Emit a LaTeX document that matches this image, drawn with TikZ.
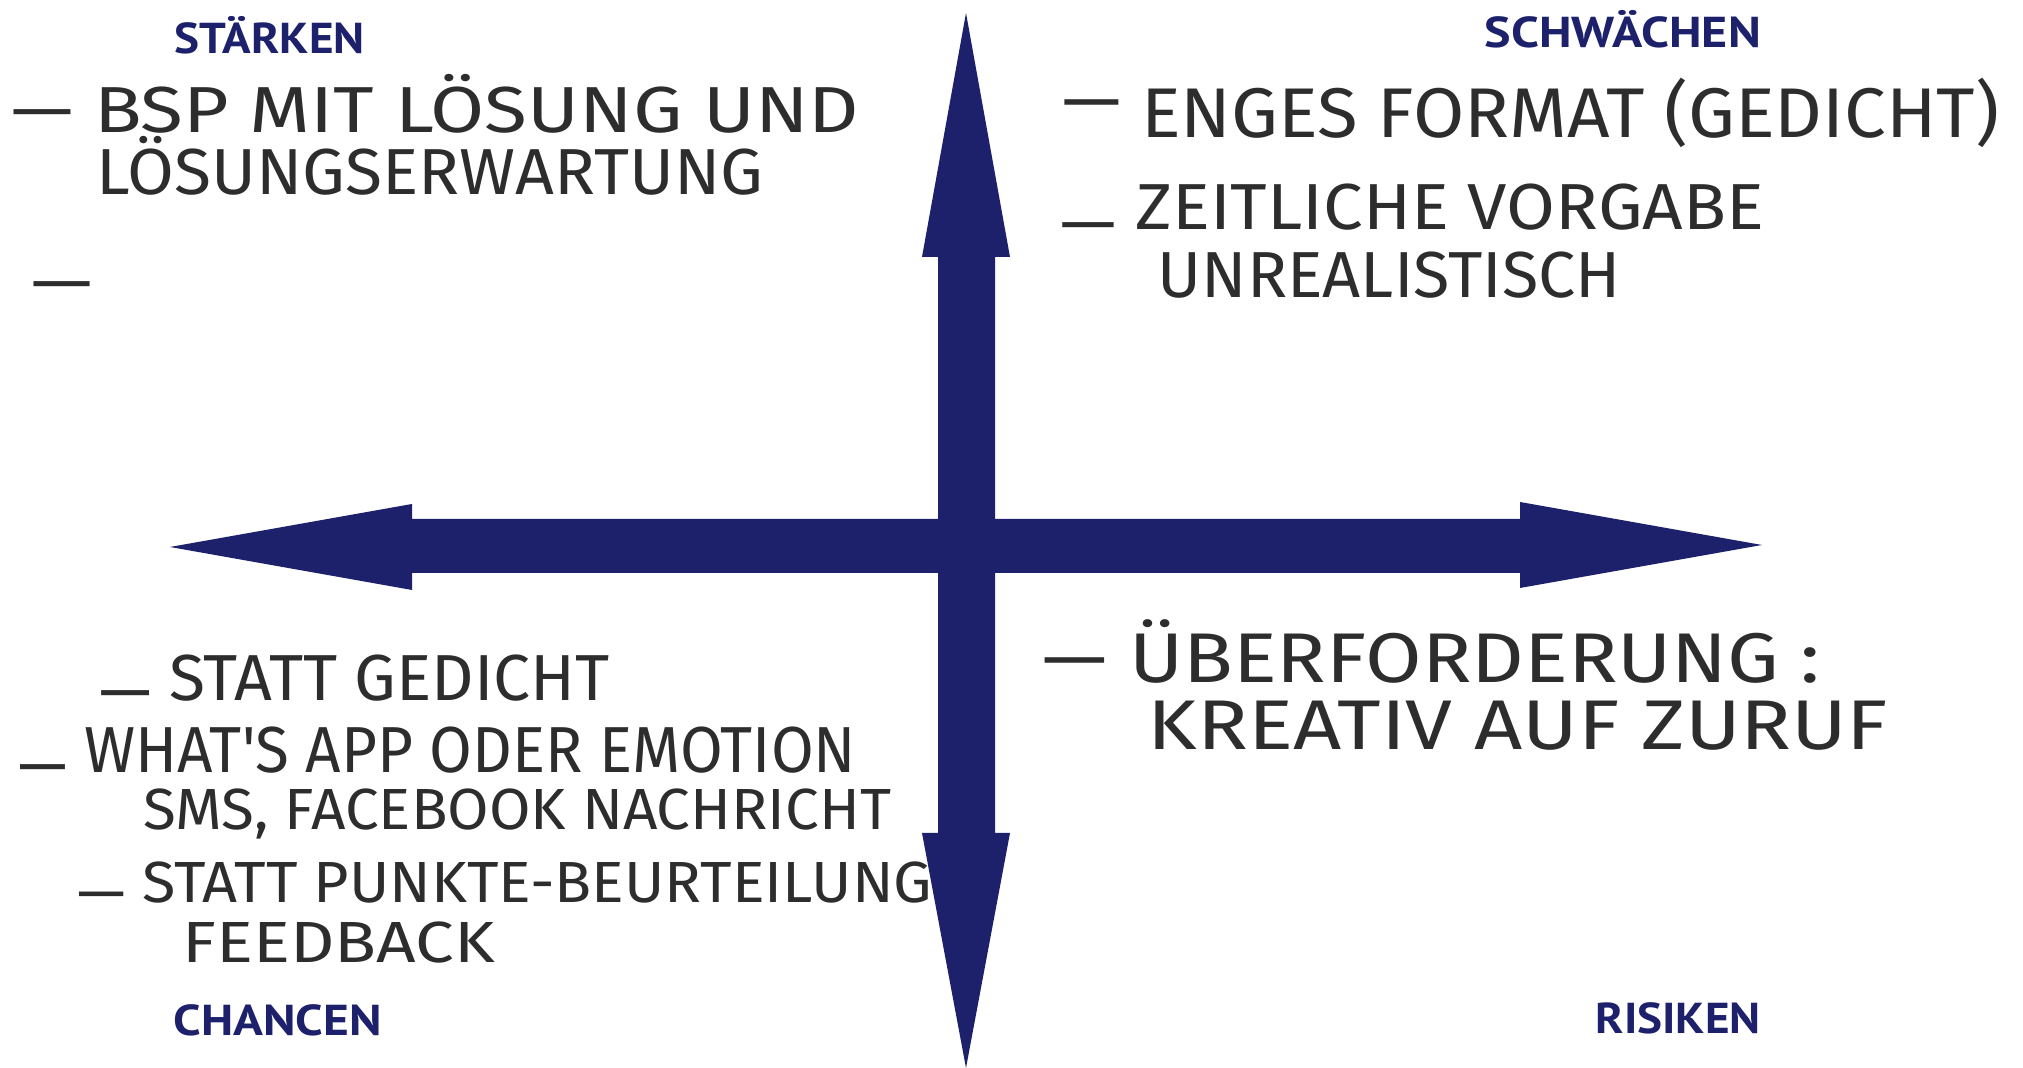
\documentclass[tikz,border=0pt]{standalone}
\usepackage{fontspec}
\usepackage{graphicx}
\newfontfamily\handfont{Fira Sans}
\newfontfamily\labelfont{PT Sans}
\definecolor{swotblue}{RGB}{29,33,107}
\definecolor{ink}{RGB}{45,45,45}
\newcommand{\fitto}[2]{\resizebox{#1}{\height}{#2}}
\newcommand{\dashat}[1]{\smash{\raisebox{#1}{—}}}

\begin{document}
\begin{tikzpicture}[x=0.01cm,y=-0.01cm]

      \useasboundingbox (0,0) rectangle (2023,1068);
      \fill[white] (0,0) rectangle (2023,1068);

      % axes
      \fill[swotblue] (966,13) -- (1010,257) -- (995,257) -- (995,833) -- (1010,833)
        -- (966,1068) -- (922,833) -- (938,833) -- (938,257) -- (922,257) -- cycle;
      \fill[swotblue] (170,547) -- (412,504) -- (412,519) -- (1520,519) -- (1520,502)
        -- (1762,545) -- (1520,588) -- (1520,573) -- (412,573) -- (412,590) -- cycle;

      \begin{scope}[every node/.style={anchor=base west, inner sep=0pt, text=swotblue,
          font=\labelfont\bfseries\fontsize{12.3}{14}\selectfont}]
        \node (staerken)   at (174,54)   {\fitto{1.90cm}{STÄRKEN}};
        \node (schwaechen) at (1484,48)  {\fitto{2.76cm}{SCHWÄCHEN}};
        \node (chancen)    at (173,1036) {\fitto{2.08cm}{CHANCEN}};
        \node (risiken)    at (1595,1034){\fitto{1.65cm}{RISIKEN}};
      \end{scope}

      \begin{scope}[every node/.style={anchor=base west, inner sep=0pt, text=ink,
          font=\handfont\fontsize{18.5}{20}\selectfont}]
        \node (s1) at (11,133)  {\fitto{8.47cm}{— BSP MIT LÖSUNG UND}};
        \node (s2) at (96,195)  {\fitto{6.66cm}{LÖSUNGSERWARTUNG}};
        \node (s3) at (31,305)  {\fitto{0.61cm}{—}};

        \node[font=\handfont\fontsize{20}{22}\selectfont] (w1) at (1062,138) {\fitto{9.36cm}{\dashat{0.13cm} ENGES FORMAT (GEDICHT)}};
        \node (w2) at (1060,230) {\fitto{7.03cm}{\dashat{-0.16cm} ZEITLICHE VORGABE}};
        \node (w3) at (1157,298) {\fitto{4.63cm}{UNREALISTISCH}};

        \node (c1) at (99,701)  {\fitto{5.10cm}{\dashat{-0.13cm} STATT GEDICHT}};
        \node (c2) at (18,773)  {\fitto{8.37cm}{\dashat{-0.15cm} WHAT'S APP ODER EMOTION}};
        \node[font=\handfont\fontsize{16.5}{18}\selectfont] (c3) at (143,830) {\fitto{7.47cm}{SMS, FACEBOOK NACHRICHT}};
        \node[font=\handfont\fontsize{16.5}{18}\selectfont] (c4) at (77,903)  {\fitto{8.54cm}{\dashat{-0.1cm} STATT PUNKTE-BEURTEILUNG}};
        \node[font=\handfont\fontsize{16.5}{18}\selectfont] (c5) at (182,963) {\fitto{3.12cm}{FEEDBACK}};

        \node[font=\handfont\fontsize{20}{22}\selectfont] (r1) at (1042,683) {\fitto{7.77cm}{— ÜBERFORDERUNG :}};
        \node[font=\handfont\fontsize{20}{22}\selectfont] (r2) at (1147,750) {\fitto{7.40cm}{KREATIV AUF ZURUF}};
      \end{scope}

    \end{tikzpicture}
\end{document}
